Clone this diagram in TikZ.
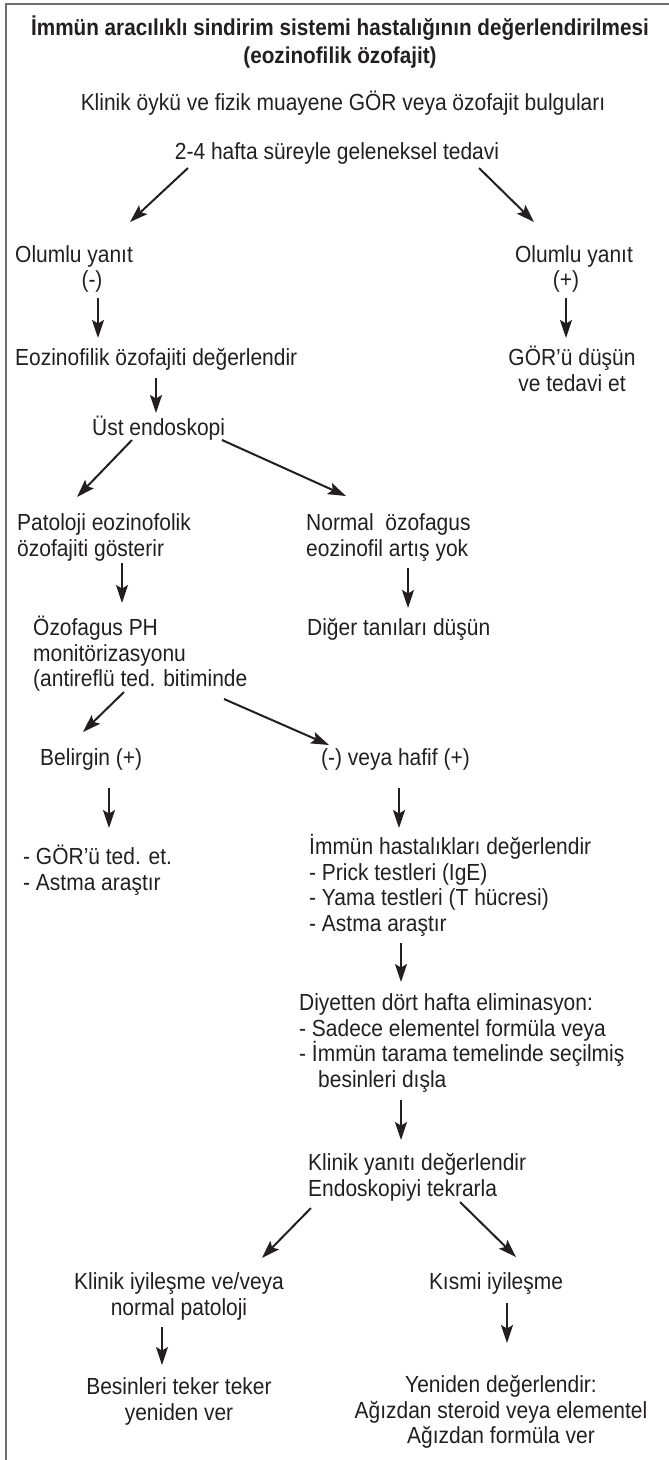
\documentclass[tikz,border=0pt]{standalone}
\usepackage{fontspec}
\setmainfont{Liberation Sans}[FakeStretch=0.9]
\usetikzlibrary{arrows.meta,calc}
\definecolor{ink}{HTML}{231F20}
\definecolor{framecol}{HTML}{6D6E71}
\begin{document}
\begin{tikzpicture}[x=1pt,y=-1pt,
  txt/.style={inner sep=0pt, text=ink, font=\fontsize{23.3}{25.5}\selectfont, align=left, anchor=base west},
  ctxt/.style={inner sep=0pt, text=ink, font=\fontsize{23.3}{25.5}\selectfont, align=center, anchor=base},
  arr/.style={draw=ink, line width=2pt, -{Stealth[length=18pt,width=12pt,inset=3.5pt]}},
  framestyle/.style={draw=framecol, line width=1.4pt}
]
\useasboundingbox (0,0) rectangle (669,1460);
\draw[framestyle] (669,4) -- (6,4) -- (6,1460);

% multi-line nodes are placed at the baseline of their LAST line
\node[ctxt, font=\fontsize{23}{28}\selectfont\bfseries] (title) at (340,63) {İmmün aracılıklı sindirim sistemi hastalığının değerlendirilmesi\\(eozinofilik özofajit)};
\node[ctxt] (kli) at (343,110.5) {Klinik öykü ve fizik muayene GÖR veya özofajit bulguları};
\node[ctxt] (n24) at (337,159.5) {2-4 hafta süreyle geleneksel tedavi};

\node[txt] (olL) at (15,262.5) {Olumlu yanıt};
\node[ctxt] (olLm) at (92,287.5) {(-)};
\node[ctxt] (olR) at (574,262.5) {Olumlu yanıt};
\node[ctxt] (olRp) at (566,287.5) {(+)};

\node[txt] (eoz) at (15,365.5) {Eozinofilik özofajiti değerlendir};
\node[ctxt] (gor) at (572,391) {GÖR’ü düşün\\ve tedavi et};

\node[txt] (ust) at (92,435.5) {Üst endoskopi};

\node[txt] (pat) at (17,556) {Patoloji eozinofolik\\özofajiti gösterir};
\node[txt] (nor) at (306,556) {Normal\ \ özofagus\\eozinofil artış yok};

\node[txt] (ph) at (33,686.5) {Özofagus PH\\monitörizasyonu\\(antireflü ted. bitiminde};
\node[txt] (dig) at (307,635.5) {Diğer tanıları düşün};

\node[txt] (bel) at (40,765.5) {Belirgin (+)};
\node[txt] (hafif) at (321,765.5) {(-) veya hafif (+)};

\node[txt] (gted) at (23,890) {- GÖR’ü ted. et.\\- Astma araştır};
\node[txt] (imm) at (309,931) {İmmün hastalıkları değerlendir\\- Prick testleri (IgE)\\- Yama testleri (T hücresi)\\- Astma araştır};

\node[txt] (diy) at (299,1087) {Diyetten dört hafta eliminasyon:\\- Sadece elementel formüla veya\\- İmmün tarama temelinde seçilmiş\\\hspace*{19pt}besinleri dışla};

\node[txt] (kly) at (308,1196) {Klinik yanıtı değerlendir\\Endoskopiyi tekrarla};

\node[ctxt] (kil) at (179,1315) {Klinik iyileşme ve/veya\\normal patoloji};
\node[ctxt] (kis) at (496,1289.5) {Kısmi iyileşme};

\node[ctxt] (bes) at (179,1420) {Besinleri teker teker\\yeniden ver};
\node[ctxt] (yen) at (501,1443.5) {Yeniden değerlendir:\\Ağızdan steroid veya elementel\\Ağızdan formüla ver};

\draw[arr] ($(n24.base -| 188,0)+(0,8.5)$) -- ($(olL.base -| 130,0)+(0,-40.5)$);
\draw[arr] ($(n24.base -| 479,0)+(0,8.5)$) -- ($(olR.base -| 534,0)+(0,-40.5)$);
\draw[arr] ($(olLm.base -| 98,0)+(0,10.5)$) -- ($(eoz.base -| 98,0)+(0,-27.5)$);
\draw[arr] ($(olRp.base -| 566,0)+(0,10.5)$) -- ($(gor.base -| 566,0)+(0,-53)$);
\draw[arr] ($(eoz.base -| 156,0)+(0,12.5)$) -- ($(ust.base -| 156,0)+(0,-22.5)$);
\draw[arr] ($(ust.base -| 132,0)+(0,4.5)$) -- ($(pat.base -| 77,0)+(0,-59)$);
\draw[arr] ($(ust.base -| 222,0)+(0,4.5)$) -- ($(nor.base -| 346,0)+(0,-60)$);
\draw[arr] ($(pat.base -| 122,0)+(0,7)$) -- ($(ph.base -| 122,0)+(0,-83.5)$);
\draw[arr] ($(nor.base -| 408,0)+(0,12)$) -- ($(dig.base -| 408,0)+(0,-27.5)$);
\draw[arr] ($(ph.base -| 124,0)+(0,5.5)$) -- ($(bel.base -| 83,0)+(0,-33.5)$);
\draw[arr] ($(ph.base -| 224,0)+(0,12.5)$) -- ($(hafif.base -| 329,0)+(0,-20.5)$);
\draw[arr] ($(bel.base -| 109,0)+(0,22.5)$) -- ($(gted.base -| 109,0)+(0,-62)$);
\draw[arr] ($(hafif.base -| 399,0)+(0,22.5)$) -- ($(imm.base -| 399,0)+(0,-103)$);
\draw[arr] ($(imm.base -| 401,0)+(0,12)$) -- ($(diy.base -| 401,0)+(0,-105)$);
\draw[arr] ($(diy.base -| 401,0)+(0,13)$) -- ($(kly.base -| 401,0)+(0,-56)$);
\draw[arr] ($(kly.base -| 311,0)+(0,12)$) -- ($(kil.base -| 262,0)+(0,-57)$);
\draw[arr] ($(kly.base -| 460,0)+(0,6)$) -- ($(kis.base -| 516,0)+(0,-32.5)$);
\draw[arr] ($(kil.base -| 162,0)+(0,12)$) -- ($(bes.base -| 162,0)+(0,-55)$);
\draw[arr] ($(kis.base -| 507,0)+(0,13.5)$) -- ($(yen.base -| 507,0)+(0,-100.5)$);
\end{tikzpicture}
\end{document}
